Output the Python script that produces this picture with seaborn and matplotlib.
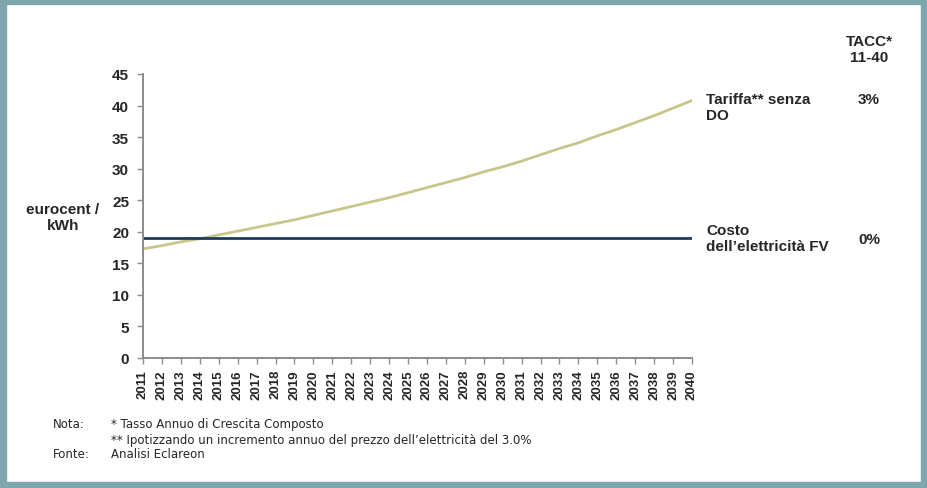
import matplotlib
matplotlib.use("Agg")
import matplotlib.pyplot as plt
import matplotlib.patches as mpatches
import seaborn as sns
import pandas as pd

# Data
years = list(range(2011, 2041))
tariffa = [17.3, 17.8, 18.4, 18.9, 19.5, 20.1, 20.7, 21.3, 21.9, 22.6,
           23.3, 24.0, 24.7, 25.4, 26.2, 27.0, 27.8, 28.6, 29.5, 30.3,
           31.2, 32.2, 33.2, 34.1, 35.2, 36.2, 37.3, 38.4, 39.6, 40.8]
costo_fv = [19.0] * 30
y_ticks = [0, 5, 10, 15, 20, 25, 30, 35, 40, 45]
series_names = ["Tariffa** senza\nDO", "Costo\ndell\u2019elettricit\u00e0 FV"]
tacc_values = ["3%", "0%"]

sns.set_style("white")
plt.rcParams["font.family"] = ["Liberation Sans", "DejaVu Sans"]

df = pd.DataFrame({
    "idx": list(range(len(years))) * 2,
    "value": tariffa + costo_fv,
    "serie": [series_names[0]] * len(years) + [series_names[1]] * len(years),
})

fig = plt.figure(figsize=(9.28, 4.89), dpi=100)
fig.patch.set_facecolor("white")

# Frame around the figure
border = "#7fa6ad"
W, H = 928, 489
for (x0, y0, w, h) in [(0, 0, 6, 489), (0, 0, 928, 5), (0, 483, 928, 6), (921, 0, 7, 489)]:
    fig.patches.append(mpatches.Rectangle((x0 / W, 1 - (y0 + h) / H), w / W, h / H,
                                          transform=fig.transFigure, color=border, zorder=0))

ax = fig.add_axes([143 / W, 1 - 359 / H, (692 - 143) / W, (359 - 75) / H])
sns.lineplot(data=df, x="idx", y="value", hue="serie",
             palette=["#c9c68c", "#1f3b5c"], linewidth=2.0, ax=ax, legend=False)

ax.set_xlim(0, len(years) - 1)
ax.set_ylim(0, 45)
ax.set_yticks(y_ticks)
ax.set_yticklabels([str(v) for v in y_ticks], fontsize=11, fontweight="bold")
ax.set_xticks(range(len(years)))
ax.set_xticklabels([str(y) for y in years], rotation=90, fontsize=9.5, fontweight="bold")
ax.set_xlabel("")
ax.set_ylabel("")
for s in ["top", "right"]:
    ax.spines[s].set_visible(False)
for s in ["left", "bottom"]:
    ax.spines[s].set_color("#8c8c8c")
    ax.spines[s].set_linewidth(1.4)
ax.tick_params(axis="both", which="both", direction="out", length=4, width=1,
               color="#8c8c8c", left=True, bottom=True)
ax.tick_params(axis="y", pad=6)
ax.tick_params(axis="x", pad=4)
ax.set_facecolor("none")

# Axis title
fig.text(63 / W, 1 - 218 / H, "eurocent /\nkWh", fontsize=11, fontweight="bold",
         ha="center", va="center", linespacing=1.2)

# Series labels and growth rates
fig.text(869 / W, 1 - 50 / H, "TACC*\n11-40", fontsize=11, fontweight="bold",
         ha="center", va="center", linespacing=1.15)
fig.text(706 / W, 1 - 108 / H, series_names[0], fontsize=11, fontweight="bold",
         ha="left", va="center", linespacing=1.15)
fig.text(869 / W, 1 - 100 / H, tacc_values[0], fontsize=11, fontweight="bold",
         ha="center", va="center")
fig.text(706 / W, 1 - 239 / H, series_names[1], fontsize=11, fontweight="bold",
         ha="left", va="center", linespacing=1.15)
fig.text(869 / W, 1 - 240 / H, tacc_values[1], fontsize=11, fontweight="bold",
         ha="center", va="center")

# Footnotes
note = dict(fontsize=8.5, ha="left", va="center", family="DejaVu Sans")
fig.text(53 / W, 1 - 425 / H, "Nota:", **note)
fig.text(111 / W, 1 - 425 / H, "* Tasso Annuo di Crescita Composto", **note)
fig.text(111 / W, 1 - 441 / H,
         "** Ipotizzando un incremento annuo del prezzo dell\u2019elettricit\u00e0 del 3.0%",
         **note)
fig.text(53 / W, 1 - 455 / H, "Fonte:", **note)
fig.text(111 / W, 1 - 455 / H, "Analisi Eclareon", **note)

fig.savefig("out.png", dpi=100)
